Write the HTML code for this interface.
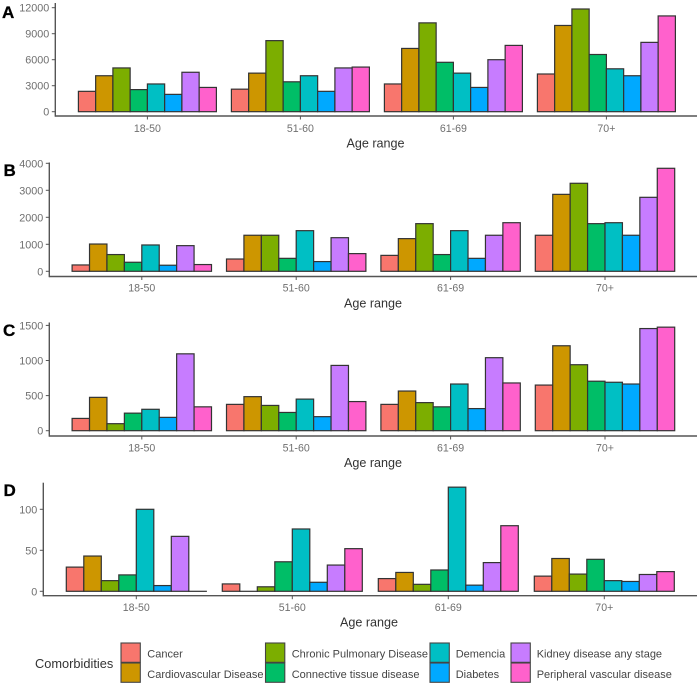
<!DOCTYPE html>
<html>
<head>
<meta charset="utf-8">
<title>Comorbidities by age range</title>
<style>
html,body{margin:0;padding:0;background:#fff;}
svg{display:block;filter:blur(0.35px);font-family:"Liberation Sans",Arial,sans-serif;}
</style>
</head>
<body>
<svg id="chart" xmlns="http://www.w3.org/2000/svg" width="700" height="684" viewBox="0 0 700 684"></svg>
<script>
const categories = ['18-50', '51-60', '61-69', '70+'];
const comorbidities = ['Cancer', 'Cardiovascular Disease', 'Chronic Pulmonary Disease', 'Connective tissue disease', 'Demencia', 'Diabetes', 'Kidney disease any stage', 'Peripheral vascular disease'];
const colors = ['#F8766D', '#CD9600', '#7CAE00', '#00BE67', '#00BFC4', '#00A9FF', '#C77CFF', '#FF61CC'];

const panelAValues = [
  [2350, 4150, 5050, 2550, 3200, 2000, 4550, 2800],
  [2600, 4450, 8200, 3450, 4150, 2350, 5050, 5150],
  [3200, 7300, 10250, 5700, 4450, 2800, 6000, 7650],
  [4350, 9950, 11850, 6600, 4950, 4150, 8000, 11050]
];
const panelBValues = [
  [235, 1010, 620, 335, 975, 225, 950, 250],
  [455, 1335, 1335, 480, 1505, 360, 1245, 655],
  [590, 1210, 1765, 620, 1505, 480, 1335, 1800],
  [1335, 2850, 3260, 1765, 1800, 1335, 2740, 3815]
];
const panelCValues = [
  [175, 475, 100, 250, 305, 190, 1095, 340],
  [375, 485, 360, 260, 450, 200, 930, 415],
  [375, 565, 400, 340, 665, 315, 1040, 680],
  [650, 1210, 940, 705, 690, 665, 1455, 1475]
];
const panelDValues = [
  [29.5, 43, 13, 20, 100, 7, 67, 0],
  [9, 0, 5.5, 36, 76, 11, 32, 52],
  [15.5, 23, 8.5, 26, 127, 7.5, 35, 80],
  [18.5, 40, 21, 39, 13, 12, 20.5, 24]
];

const panelATicks = [0, 3000, 6000, 9000, 12000];
const panelBTicks = [0, 1000, 2000, 3000, 4000];
const panelCTicks = [0, 500, 1000, 1500];
const panelDTicks = [0, 50, 100];

const NS = 'http://www.w3.org/2000/svg';
const root = document.getElementById('chart');

function make(tag, attrs, parent, text) {
  const el = document.createElementNS(NS, tag);
  for (const k in attrs) el.setAttribute(k, attrs[k]);
  if (text !== undefined) el.textContent = text;
  (parent || root).appendChild(el);
  return el;
}

function drawPanel(p) {
  const g = make('g', {}, root);
  
  

  const yScale = v => p.zeroY - v * p.pxPerUnit;
  const xBand = i => p.firstCenter + i * p.step;
  const barW = p.groupW / comorbidities.length;

  const letter = make('text', {x: p.letterX, y: p.letterY, 'font-size': 17, 'font-weight': 'bold', fill: '#000', stroke: '#000', 'stroke-width': 0.3}, g, p.id);
  
  

  p.values.forEach((row, c) => {
    const left = xBand(c) - p.groupW / 2;
    row.forEach((v, s) => {
      const bar = make('rect', {
        x: left + s * barW,
        y: yScale(v),
        width: barW,
        height: Math.max(0.01, p.zeroY - yScale(v)),
        fill: colors[s],
        stroke: '#333',
        'stroke-width': 1.2
      }, g);
      
      
    });
  });

  const yAxis = make('line', {x1: p.axisX, x2: p.axisX, y1: p.axisTop, y2: p.axisY + 0.7, stroke: '#555', 'stroke-width': 1.4}, g);
  
  
  const xAxis = make('line', {x1: p.axisX, x2: 697, y1: p.axisY, y2: p.axisY, stroke: '#555', 'stroke-width': 1.4}, g);
  
  

  p.ticks.forEach(t => {
    make('line', {x1: p.axisX - 3.5, x2: p.axisX, y1: yScale(t), y2: yScale(t), stroke: '#555', 'stroke-width': 1}, g);
    const lab = make('text', {x: p.axisX - 6, y: yScale(t) + 4, 'text-anchor': 'end', 'font-size': 10.8, fill: '#6f6f6f'}, g, String(t));
    
    
  });

  categories.forEach((c, i) => {
    make('line', {x1: xBand(i), x2: xBand(i), y1: p.axisY, y2: p.axisY + 3.5, stroke: '#555', 'stroke-width': 1}, g);
    const lab = make('text', {x: xBand(i), y: p.tickLabelY, 'text-anchor': 'middle', 'font-size': 10.6, fill: '#6f6f6f'}, g, c);
    
    
  });

  const title = make('text', {x: p.titleX, y: p.titleY, 'text-anchor': 'middle', 'font-size': 12.6, fill: '#333'}, g, 'Age range');
  
  
}

drawPanel({id: 'A', values: panelAValues, ticks: panelATicks, zeroY: 111.7, pxPerUnit: 26 / 3000,
  axisX: 55.3, axisY: 116, axisTop: 3, firstCenter: 147.4, step: 153, groupW: 138,
  tickLabelY: 132, titleX: 375.5, titleY: 147.5, letterX: 2, letterY: 18});
drawPanel({id: 'B', values: panelBValues, ticks: panelBTicks, zeroY: 271.3, pxPerUnit: 27 / 1000,
  axisX: 49.3, axisY: 276.5, axisTop: 162.5, firstCenter: 141.8, step: 154.4, groupW: 139.4,
  tickLabelY: 291.5, titleX: 373, titleY: 307.5, letterX: 3.5, letterY: 176});
drawPanel({id: 'C', values: panelCValues, ticks: panelCTicks, zeroY: 430.7, pxPerUnit: 35.1 / 500,
  axisX: 49.3, axisY: 436, axisTop: 322.5, firstCenter: 141.8, step: 154.4, groupW: 139.4,
  tickLabelY: 451.5, titleX: 373, titleY: 467, letterX: 3, letterY: 336});
drawPanel({id: 'D', values: panelDValues, ticks: panelDTicks, zeroY: 591.3, pxPerUnit: 0.82,
  axisX: 43.3, axisY: 595.7, axisTop: 482.7, firstCenter: 136.3, step: 156, groupW: 140,
  tickLabelY: 611, titleX: 369, titleY: 626.5, letterX: 3.5, letterY: 496});

const legend = make('g', {}, root);



const legendTitle = make('text', {x: 35, y: 668, 'font-size': 12.8, fill: '#333'}, legend, 'Comorbidities');



const legendSwatchX = [121, 265.5, 430, 511];
const legendTextX = [147.3, 291.7, 455.7, 536.7];
comorbidities.forEach((name, i) => {
  const col = Math.floor(i / 2);
  const row = i % 2;
  const entry = make('g', {}, legend);
  
  
  make('rect', {x: legendSwatchX[col], y: 643 + row * 20, width: 19.3, height: 19.3, fill: colors[i], stroke: '#444', 'stroke-width': 1.1}, entry);
  make('text', {x: legendTextX[col], y: 657.5 + row * 20.3, 'font-size': 11, fill: '#444'}, entry, name);
});
</script>
</body>
</html>
